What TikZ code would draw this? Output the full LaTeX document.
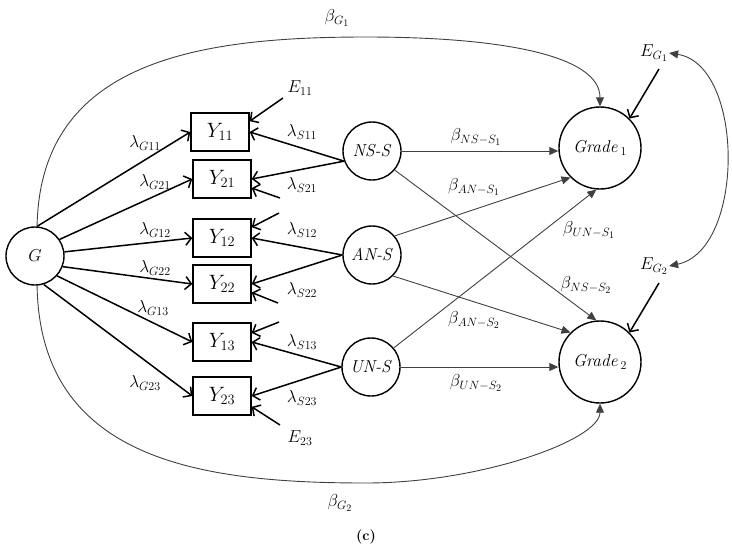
\documentclass[tikz,border=0pt]{standalone}
\usetikzlibrary{arrows.meta}
\begin{document}
\begin{tikzpicture}[x=1pt,y=-1pt,
  every node/.style={font=\fontsize{17.28}{20}\selectfont},
  lat/.style={circle,draw,line width=1.4pt,minimum size=58pt,inner sep=0pt},
  grd/.style={circle,draw,line width=1.4pt,minimum size=82pt,inner sep=0pt},
  obs/.style={rectangle,draw,line width=1.4pt,minimum width=58pt,minimum height=38pt,inner sep=0pt,font=\fontsize{20.74}{24}\selectfont},
  load/.style={line width=1.5pt,-{Straight Barb[length=6pt,width=13pt]}},
  reg/.style={line width=0.9pt,draw=black!75,-{Triangle[length=9pt,width=8pt]}},
  lab/.style={inner sep=1pt}]
\useasboundingbox (0,0) rectangle (732,550);
% latent and observed nodes
\node[lat] (g) at (35,256) {$G$};
\node[obs] (y11) at (220,132) {$Y_{11}$};
\node[obs] (y21) at (222,179) {$Y_{21}$};
\node[obs] (y12) at (222,238) {$Y_{12}$};
\node[obs] (y22) at (222,284) {$Y_{22}$};
\node[obs] (y13) at (222,342) {$Y_{13}$};
\node[obs] (y23) at (222,396) {$Y_{23}$};
\node[lat] (ns) at (372,151) {\textit{NS-S}};
\node[lat] (an) at (372,255) {\textit{AN-S}};
\node[lat] (un) at (371,367) {\textit{UN-S}};
\node[grd] (g1) at (600,148) {\textit{Grade}\,$_1$};
\node[grd] (g2) at (600,362) {\textit{Grade}\,$_2$};
% error labels
\node[lab] (e11) at (300,88) {$E_{11}$};
\node[lab] (e23) at (300,438) {$E_{23}$};
\node[lab] (eg1) at (654,53) {$E_{G_1}$};
\node[lab] (eg2) at (654,266) {$E_{G_2}$};
\coordinate (t11) at (283,98);
\coordinate (t21) at (280,198);
\coordinate (t12) at (279,213);
\coordinate (t22) at (278,303);
\coordinate (t13) at (279,322);
\coordinate (t23) at (280,425);
\coordinate (tg1) at (659,69);
\coordinate (tg2) at (659,283);
\coordinate (tm) at (366,37);
\coordinate (bm) at (366,483);
% error arrows
\draw[load] (t11) -- (y11.20);
\draw[load] (t21) -- (y21.-17);
\draw[load] (t12) -- (y12.20);
\draw[load] (t22) -- (y22.-16);
\draw[load] (t13) -- (y13.17);
\draw[load] (t23) -- (y23.-20);
\draw[load] (tg1) -- (g1.45);
\draw[load] (tg2) -- (g2.45);
\draw[line width=0.9pt,draw=black!75,{Triangle[length=9pt,width=8pt]}-{Triangle[length=9pt,width=8pt]}]
  (eg1.east) .. controls (745,65) and (745,250) .. (eg2.east);
% loadings from G
\draw[load] (g.86) -- (y11.west);
\draw[load] (g.34) -- (y21.west);
\draw[load] (g.8) -- (y12.west);
\draw[load] (g.-21) -- (y22.west);
\draw[load] (g.-42) -- (y13.west);
\draw[load] (g.-73) -- (y23.west);
% loadings from specific factors
\draw[load] (ns.200) -- (y11.east);
\draw[load] (ns.200) -- (y21.east);
\draw[load] (an.west) -- (y12.east);
\draw[load] (an.west) -- (y22.east);
\draw[load] (un.west) -- (y13.east);
\draw[load] (un.west) -- (y23.east);
% regressions
\draw[reg] (ns.east) -- (ns.east -| g1.west);
\draw[reg] (ns.-40) -- (g2.95);
\draw[reg] (an.40) -- (g1.225);
\draw[reg] (an.-45) -- (g2.135);
\draw[reg] (un.40) -- (g1.265);
\draw[reg] (un.east) -- (un.east -| g2.west);
\draw[reg] (g.86) .. controls (40,60) and (200,37) .. (tm) .. controls (500,37) and (600,55) .. (g1.north);
\draw[reg] (g.-86) .. controls (40,460) and (200,483) .. (bm) .. controls (480,483) and (600,440) .. (g2.south);
% labels
\node[lab] at (145,143) {$\lambda_{G11}$};
\node[lab] at (155,182) {$\lambda_{G21}$};
\node[lab] at (155,230) {$\lambda_{G12}$};
\node[lab] at (155,268) {$\lambda_{G22}$};
\node[lab] at (153,308) {$\lambda_{G13}$};
\node[lab] at (145,383) {$\lambda_{G23}$};
\node[lab] at (302,132) {$\lambda_{S11}$};
\node[lab] at (302,185) {$\lambda_{S21}$};
\node[lab] at (302,230) {$\lambda_{S12}$};
\node[lab] at (302,290) {$\lambda_{S22}$};
\node[lab] at (302,342) {$\lambda_{S13}$};
\node[lab] at (302,398) {$\lambda_{S23}$};
\node[lab] at (337,18) {$\beta_{G_1}$};
\node[lab] at (340,503) {$\beta_{G_2}$};
\node[lab] at (476,137) {$\beta_{NS-S_1}$};
\node[lab] at (474,187) {$\beta_{AN-S_1}$};
\node[lab] at (589,230) {$\beta_{UN-S_1}$};
\node[lab] at (586,285) {$\beta_{NS-S_2}$};
\node[lab] at (474,320) {$\beta_{AN-S_2}$};
\node[lab] at (476,383) {$\beta_{UN-S_2}$};
\node[font=\fontsize{14.4}{16}\selectfont\bfseries] at (366,537) {(c)};
\end{tikzpicture}
\end{document}
